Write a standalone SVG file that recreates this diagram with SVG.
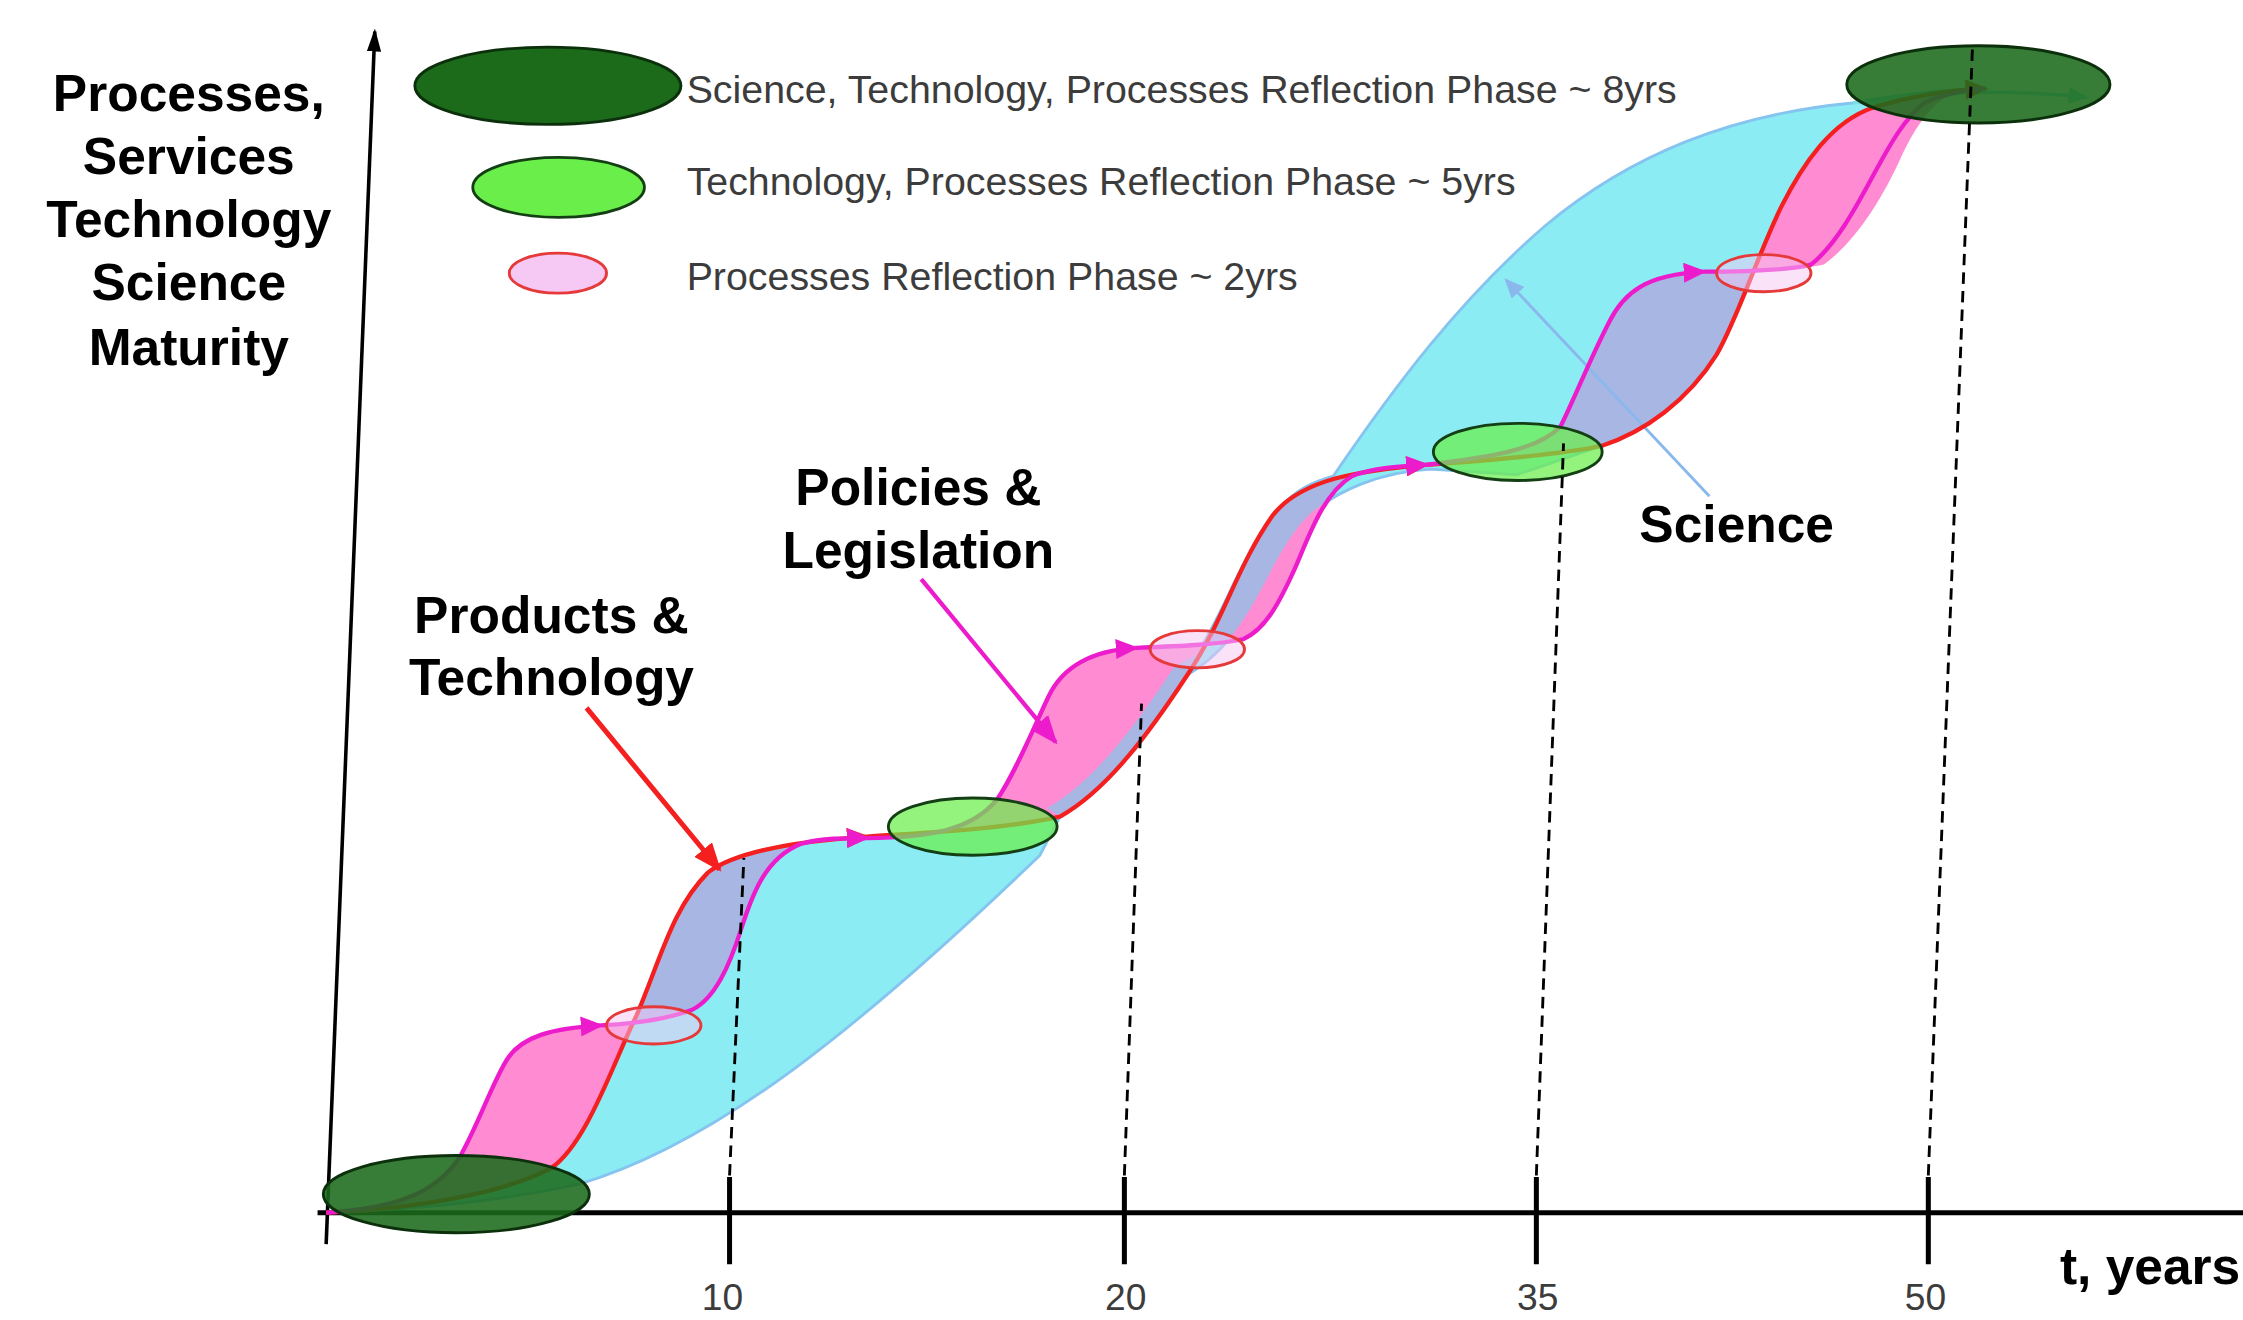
<svg xmlns="http://www.w3.org/2000/svg" width="2243" height="1320" viewBox="0 0 2243 1320">
<style>
.lbl{font-family:"Liberation Sans",Arial,sans-serif;font-weight:bold;font-size:36px;fill:#000;text-anchor:middle}
.leg{font-family:"Liberation Sans",Arial,sans-serif;font-size:27.5px;fill:#3c3c3c}
.tick{font-family:"Liberation Sans",Arial,sans-serif;font-size:26px;fill:#3c3c3c;text-anchor:middle}
.axis{stroke:#000;fill:none}
.dash{stroke:#000;stroke-width:2;stroke-dasharray:8 5;fill:none}
.red{stroke:#f42020;stroke-width:3;fill:none}
.mag{stroke:#ec1ccc;stroke-width:3;fill:none}
.dk{fill:#1b6b1b;stroke:#0c300c;stroke-width:2}
.lg{fill:#6aee4a;stroke:#143e14;stroke-width:2}
.pk{fill:#f6c8f4;stroke:#e63a3a;stroke-width:2}
.chart .dk{fill-opacity:0.88}
.chart .lg{fill-opacity:0.72}
.chart .pk{fill-opacity:0.5}
</style>
<defs>
<marker id="aMag" markerUnits="userSpaceOnUse" markerWidth="16" markerHeight="14" refX="14" refY="7" orient="auto"><path d="M0,0 L16,7 L0,14 z" fill="#ec1ccc"/></marker>
<marker id="aRed" markerUnits="userSpaceOnUse" markerWidth="16" markerHeight="14" refX="14" refY="7" orient="auto"><path d="M0,0 L16,7 L0,14 z" fill="#f42020"/></marker>
<marker id="aRedL" markerUnits="userSpaceOnUse" markerWidth="20" markerHeight="16" refX="18" refY="8" orient="auto"><path d="M0,0 L20,8 L0,16 z" fill="#f42020"/></marker>
<marker id="aMagL" markerUnits="userSpaceOnUse" markerWidth="20" markerHeight="16" refX="18" refY="8" orient="auto"><path d="M0,0 L20,8 L0,16 z" fill="#ec1ccc"/></marker>
<marker id="aBlk" markerUnits="userSpaceOnUse" markerWidth="16" markerHeight="10" refX="14" refY="5" orient="auto"><path d="M0,0 L16,5 L0,10 z" fill="#000"/></marker>
<marker id="aBlue" markerUnits="userSpaceOnUse" markerWidth="14" markerHeight="12" refX="12" refY="6" orient="auto"><path d="M0,0 L14,6 L0,12 z" fill="#8ab8ec"/></marker>
<marker id="aTeal" markerUnits="userSpaceOnUse" markerWidth="14" markerHeight="12" refX="12" refY="6" orient="auto"><path d="M0,0 L14,6 L0,12 z" fill="#7fdce6"/></marker>
<path id="sciPath" d="M228,848 C290,845 350,835 385,817 C410,800 428,745 445,710 C462,670 470,635 495,610 C515,595 560,588 606,585 C650,582 700,580 741,571 L732,565 C766,546 796,504 821,466 L836,458 C855,430 865,395 890,360 C905,342 918,337 932,333 C975,270 1020,210 1080,158 C1140,108 1210,80 1295,72 C1330,66 1360,62 1388,62 C1365,63 1340,66 1310,75 C1280,85 1260,115 1245,145 C1228,180 1215,222 1200,248 C1180,280 1150,302 1119,312 L1060,332 L1000,328 C965,330 935,343 915,360 C895,380 885,410 868,435 C858,450 848,460 836,468 L830,472 C805,510 775,552 741,571 L727,598 C600,720 500,800 405,828 C340,842 280,846 228,848 Z"/>
<path id="procPath" d="M228,848 C275,845 305,835 322,808 C335,785 345,755 355,740 C365,725 385,719 420,717 C440,716 465,713 484,706 C500,698 510,675 518,650 C526,625 535,600 560,590 C575,586 590,586 606,586 C650,586 680,580 697,559 C710,540 722,510 733,487 C742,468 760,455 794,453 C820,452 850,451 869,447 C885,440 895,420 905,398 C915,375 925,345 945,333 C960,327 980,326 997,325 C1040,320 1075,315 1091,298 C1100,280 1112,250 1125,225 C1135,205 1150,192 1191,190 C1220,190 1255,189 1275,185 C1298,168 1316,138 1328,112 C1338,90 1348,76 1360,68 C1372,64 1380,62 1388,62 C1365,63 1340,66 1310,75 C1280,85 1260,115 1245,145 C1228,180 1215,222 1200,248 C1180,280 1150,302 1119,312 C1090,318 1040,322 997,325 C950,329 910,335 890,360 C865,395 855,435 830,472 C805,510 775,552 741,571 C700,580 650,582 606,585 C560,588 515,595 495,610 C470,635 462,670 445,710 C428,745 410,800 385,817 C350,835 290,845 228,848 Z"/>
<clipPath id="sciClip"><use href="#sciPath"/></clipPath>
</defs>
<rect x="0" y="0" width="2243" height="1320" fill="#fff"/>
<g transform="scale(1.4305 1.4301)">
<g id="axes">
<path class="axis" d="M228,870 L262,22" stroke-width="2.5" marker-end="url(#aBlk)"/>
<path class="axis" d="M222,848 L1570,848" stroke-width="3.5"/>
<path class="axis" d="M510,823 V884 M786,823 V884 M1074,823 V884 M1348,823 V884" stroke-width="3.5"/>
<text class="tick" x="505" y="916">10</text>
<text class="tick" x="787" y="916">20</text>
<text class="tick" x="1075" y="916">35</text>
<text class="tick" x="1346" y="916">50</text>
<text class="lbl" x="1440" y="898" style="text-anchor:start">t, years</text>
</g>
<g id="science-band">
<use href="#sciPath" fill="#8cecf4" stroke="#86c4f0" stroke-width="2"/>
</g>
<g id="process-band">
<use href="#procPath" fill="#ff8cd2"/>
<use href="#procPath" fill="#a8b6e4" clip-path="url(#sciClip)"/>
</g>
<g id="connectors">
<path d="M1195,347 L1053,196" stroke="#8ab8ec" stroke-width="2" fill="none" marker-end="url(#aBlue)"/>
<path d="M1295,72 C1340,64 1400,62 1458,68" stroke="#7fdce6" stroke-width="2.5" fill="none" marker-end="url(#aTeal)"/>
<path class="red" d="M228,848 C290,845 350,835 385,817 C410,800 428,745 445,710 C462,670 470,635 495,610 C515,595 560,588 606,585" marker-end="url(#aRed)"/>
<path class="red" d="M606,585 C650,582 700,580 741,571 C775,552 805,510 830,472 C855,435 865,395 890,360 C910,335 950,329 997,325" marker-end="url(#aRed)"/>
<path class="red" d="M997,325 C1040,322 1090,318 1119,312 C1150,302 1180,280 1200,248 C1215,222 1228,180 1245,145 C1260,115 1280,85 1310,75 C1340,66 1365,63 1388,62" marker-end="url(#aRed)"/>
<path class="mag" d="M228,848 C275,845 305,835 322,808 C335,785 345,755 355,740 C365,725 385,719 420,717" marker-end="url(#aMag)"/>
<path class="mag" d="M420,717 C440,716 465,713 484,706 C500,698 510,675 518,650 C526,625 535,600 560,590 C575,586 590,586 606,586" marker-end="url(#aMag)"/>
<path class="mag" d="M606,586 C650,586 680,580 697,559 C710,540 722,510 733,487 C742,468 760,455 794,453" marker-end="url(#aMag)"/>
<path class="mag" d="M794,453 C820,452 850,451 869,447 C885,440 895,420 905,398 C915,375 925,345 945,333 C960,327 980,326 997,325" marker-end="url(#aMag)"/>
<path class="mag" d="M997,325 C1040,320 1075,315 1091,298 C1100,280 1112,250 1125,225 C1135,205 1150,192 1191,190" marker-end="url(#aMag)"/>
<path class="mag" d="M1191,190 C1220,190 1250,189 1266,185 C1285,170 1300,140 1312,118 C1322,100 1330,85 1345,72 C1360,65 1375,63 1388,62"/>
<path d="M410,495 L503,608" stroke="#f42020" stroke-width="3.5" fill="none" marker-end="url(#aRedL)"/>
<path d="M644,405 L738,519" stroke="#ec1ccc" stroke-width="3" fill="none" marker-end="url(#aMagL)"/>
</g>
<g class="chart">
<g id="phase-start"><ellipse class="dk" cx="319" cy="835" rx="93" ry="27"/></g>
<g id="phase-p1"><ellipse class="pk" cx="457" cy="717" rx="33" ry="13"/></g>
<g id="phase-g1"><ellipse class="lg" cx="680" cy="578" rx="59" ry="20"/></g>
<g id="phase-p2"><ellipse class="pk" cx="837" cy="454" rx="33" ry="13"/></g>
<g id="phase-g2"><ellipse class="lg" cx="1061" cy="316" rx="59" ry="20"/></g>
<g id="phase-p3"><ellipse class="pk" cx="1233" cy="191" rx="33" ry="13"/></g>
<g id="phase-end"><ellipse class="dk" cx="1383" cy="59" rx="92" ry="27"/></g>
</g>
<g id="guides">
<path class="dash" d="M510,822 L520,600"/>
<path class="dash" d="M786,822 L798,492"/>
<path class="dash" d="M1074,822 L1093,310"/>
<path class="dash" d="M1348,822 L1379,30"/>
</g>
<g id="y-label">
<text class="lbl" x="132" y="77.5">Processes,</text>
<text class="lbl" x="132" y="122">Services</text>
<text class="lbl" x="132" y="166">Technology</text>
<text class="lbl" x="132" y="210">Science</text>
<text class="lbl" x="132" y="255">Maturity</text>
</g>
<g id="label-products">
<text class="lbl" x="385.5" y="442.5">Products &amp;</text>
<text class="lbl" x="385.5" y="486">Technology</text>
</g>
<g id="label-policies">
<text class="lbl" x="642" y="353">Policies &amp;</text>
<text class="lbl" x="642" y="397">Legislation</text>
</g>
<g id="label-science">
<text class="lbl" x="1146" y="379" style="text-anchor:start">Science</text>
</g>
<g id="legend">
<g id="legend-8yrs">
<ellipse class="dk" cx="383" cy="60" rx="93" ry="27"/>
<text class="leg" x="480" y="72">Science, Technology, Processes Reflection Phase ~ 8yrs</text>
</g>
<g id="legend-5yrs">
<ellipse class="lg" cx="390.5" cy="131" rx="60" ry="21"/>
<text class="leg" x="480" y="136.5">Technology, Processes Reflection Phase ~ 5yrs</text>
</g>
<g id="legend-2yrs">
<ellipse class="pk" cx="390" cy="191" rx="34" ry="14"/>
<text class="leg" x="480" y="202.5">Processes Reflection Phase ~ 2yrs</text>
</g>
</g>
</g>
</svg>
